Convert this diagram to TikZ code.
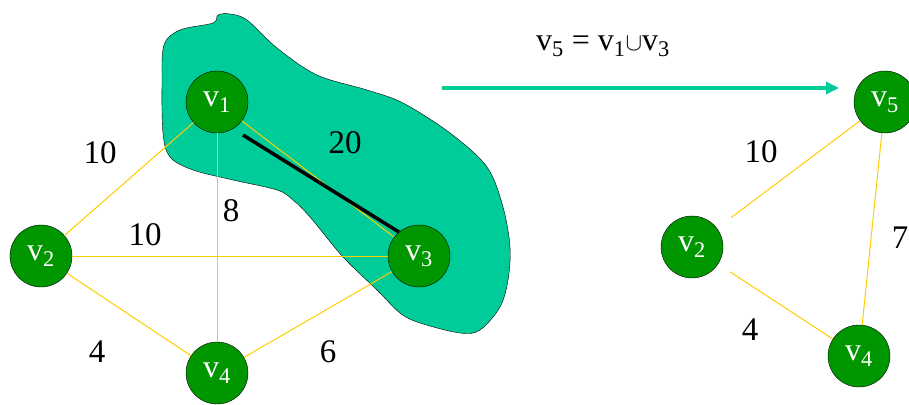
\documentclass[tikz,border=0pt]{standalone}
\usepackage{fontspec}
\setmainfont{Liberation Serif}
\usetikzlibrary{arrows.meta}
\definecolor{cTeal}{RGB}{0,204,153}
\definecolor{cNode}{RGB}{0,150,0}
\definecolor{cEdge}{RGB}{255,204,0}
\tikzset{
	vtx/.style     ={circle, draw=black, thin, fill=cNode, text=white, minimum size=62pt, inner sep=0pt, font=\fontsize{32}{36}\selectfont},
	link/.style    ={draw=cEdge, line width=1pt},
	wlabel/.style  ={font=\fontsize{33}{38}\selectfont},
	mergeline/.style={line width=3.5pt},
	contract/.style={draw=cTeal, line width=3.5pt, -{Triangle[length=13pt, width=12pt]}},
}
\begin{document}
\begin{tikzpicture}[x=1pt, y=-1pt]
	\useasboundingbox (0,0) rectangle (909,404);
	% region being merged
	\draw[fill=cTeal, thin] plot[smooth cycle, tension=0.55] coordinates {
		(213,23) (218,15) (230,14) (247,20) (277,48) (317,75) (367,90) (403,103)
		(450,133) (487,167) (503,207) (510,247) (508,280) (500,307) (480,330)
		(460,333) (420,323) (400,313) (377,290) (343,257) (310,217) (293,200)
		(277,190) (233,180) (193,170) (170,157) (163,133) (162,83) (164,45) (180,30)};
	% graph before contraction
	\node[vtx] (v1) at (217,102) {v\textsubscript{1}};
	\node[vtx] (v2) at (41,256)  {v\textsubscript{2}};
	\node[vtx] (v3) at (419,256) {v\textsubscript{3}};
	\node[vtx] (v4) at (217,373) {v\textsubscript{4}};
	\draw[link] (v1) -- (v2);
	\draw[link] (v1) -- (v3);
	\draw[link] (v1) -- (v4);
	\draw[link] (v2) -- (v3);
	\draw[link] (v2) -- (v4);
	\draw[link] (v3) -- (v4);
	\coordinate (m1) at (243,135);
	\draw[mergeline] (m1) -- (v3.130);
	\node[wlabel] (l12) at (100,153) {10};
	\node[wlabel] (l13) at (345,143) {20};
	\node[wlabel] (l14) at (231,211) {8};
	\node[wlabel] (l23) at (145,235) {10};
	\node[wlabel] (l24) at (97,352)  {4};
	\node[wlabel] (l34) at (328,352) {6};
	% contraction step
	\node[font=\fontsize{32}{36}\selectfont] (rule) at (603,46) {v\textsubscript{5} = v\textsubscript{1}$\cup$v\textsubscript{3}};
	\coordinate (a0) at (442,88);
	\coordinate (a1) at (839,88);
	\draw[contract] (a0) -- (a1);
	% graph after contraction
	\node[vtx] (v5) at (885,102) {v\textsubscript{5}};
	\node[vtx] (w2) at (692,247) {v\textsubscript{2}};
	\node[vtx] (w4) at (859,356) {v\textsubscript{4}};
	\draw[link, shorten <=18pt] (w2) -- (v5);
	\draw[link, shorten <=14pt] (w2) -- (w4);
	\draw[link] (v5) -- (w4);
	\node[wlabel] (l25) at (761,152) {10};
	\node[wlabel] (l54) at (900,238) {7};
	\node[wlabel] (l2w) at (750,330) {4};
\end{tikzpicture}
\end{document}
